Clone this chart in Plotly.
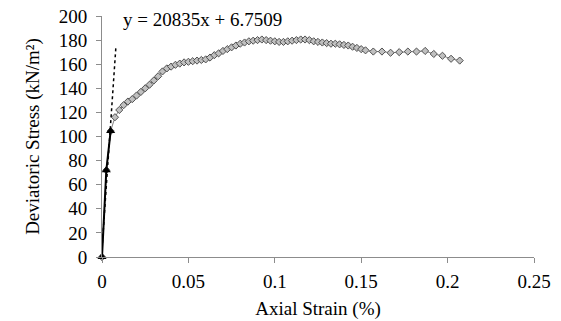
import plotly.graph_objects as go

# Initial linear portion (triangles)
tri_x = [0.0, 0.0025, 0.005]
tri_y = [0.0, 72.0, 104.5]

# Full test curve (diamonds)
dia_x = [0.0, 0.0025, 0.005,
         0.0075, 0.01, 0.0125, 0.015, 0.0175, 0.02, 0.0225, 0.025, 0.0275, 0.03,
         0.0325, 0.035, 0.0375, 0.04, 0.0425, 0.045, 0.0475, 0.05, 0.0525, 0.055,
         0.0575, 0.06, 0.0625, 0.065, 0.0675, 0.07, 0.0725, 0.075, 0.0775, 0.08,
         0.0825, 0.085, 0.0875, 0.09, 0.0925, 0.095, 0.0975, 0.1, 0.1025, 0.105,
         0.1075, 0.11, 0.1125, 0.115, 0.1175, 0.12, 0.1225, 0.125, 0.1275, 0.13,
         0.1325, 0.135, 0.1375, 0.14, 0.1425, 0.145, 0.1475, 0.15, 0.1525,
         0.157, 0.162, 0.167, 0.172, 0.177, 0.182, 0.187, 0.192, 0.197, 0.202, 0.207]
dia_y = [0.0, 72.0, 104.5,
         116, 122, 126, 129, 131, 134, 137, 140, 143, 146.5,
         150, 154, 156.5, 158, 159.5, 160.5, 161.5, 162, 162.5, 163,
         163.5, 164, 165.5, 167.5, 169, 171, 172.5, 174, 175.5, 177,
         178, 179, 179.5, 180, 180.5, 180, 179.5, 179, 178.5, 178.5,
         179, 179.5, 180, 180.5, 180.5, 180, 179, 178.5, 178, 177.5,
         177, 177, 176.5, 176, 175.5, 174.5, 173.5, 172.5, 171.5,
         170.5, 170.5, 169.5, 170, 170.5, 170.5, 171, 168.5, 167, 164.5, 163]

# Linear trendline: y = 20835x + 6.7509
slope = 20835.0
intercept = 6.7509
trend_x = [0.0, 0.0081]
trend_y = [slope * v + intercept for v in trend_x]

x_ticks = [0, 0.05, 0.1, 0.15, 0.2, 0.25]
x_labels = ["0", "0.05", "0.1", "0.15", "0.2", "0.25"]
y_ticks = list(range(0, 201, 20))

FONT = "Liberation Serif"

fig = go.Figure()
fig.add_trace(go.Scatter(
    x=dia_x, y=dia_y, mode="lines+markers",
    line=dict(color="#808080", width=1),
    marker=dict(symbol="diamond", size=5.5, color="#c0c0c0",
                line=dict(color="#505050", width=1)),
    cliponaxis=False, showlegend=False))
fig.add_trace(go.Scatter(
    x=trend_x, y=trend_y, mode="lines",
    line=dict(color="black", width=1.5, dash="dot"),
    cliponaxis=False, showlegend=False))
fig.add_trace(go.Scatter(
    x=tri_x, y=tri_y, mode="lines+markers",
    line=dict(color="black", width=2),
    marker=dict(symbol="triangle-up", size=8, color="black"),
    cliponaxis=False, showlegend=False))

fig.add_annotation(x=0.0111, y=197, xref="x", yref="y", xanchor="left", yanchor="middle",
                   text="y = 20835x + 6.7509", showarrow=False,
                   font=dict(family=FONT, size=19, color="black"))

fig.update_layout(
    width=561, height=321,
    margin=dict(l=102, r=27, t=16, b=64),
    plot_bgcolor="white", paper_bgcolor="white",
    font=dict(family=FONT, size=19, color="black"),
    xaxis=dict(range=[0, 0.25], tickvals=x_ticks, ticktext=x_labels,
               showgrid=False, zeroline=False, showline=True, linecolor="#8c8c8c",
               linewidth=1, ticks="outside", tickcolor="#8c8c8c", ticklen=5,
               ticklabelstandoff=2, automargin=False,
               title=dict(text="Axial Strain (%)", font=dict(family=FONT, size=19), standoff=10),
               tickfont=dict(family=FONT, size=19)),
    yaxis=dict(range=[0, 200], tickvals=y_ticks,
               showgrid=False, zeroline=False, showline=True, linecolor="#8c8c8c",
               linewidth=1, ticks="outside", tickcolor="#8c8c8c", ticklen=5,
               ticklabelstandoff=5, automargin=False,
               title=dict(text="Deviatoric Stress (kN/m²)", font=dict(family=FONT, size=19), standoff=14),
               tickfont=dict(family=FONT, size=19)),
)

fig.write_html("out.html")
